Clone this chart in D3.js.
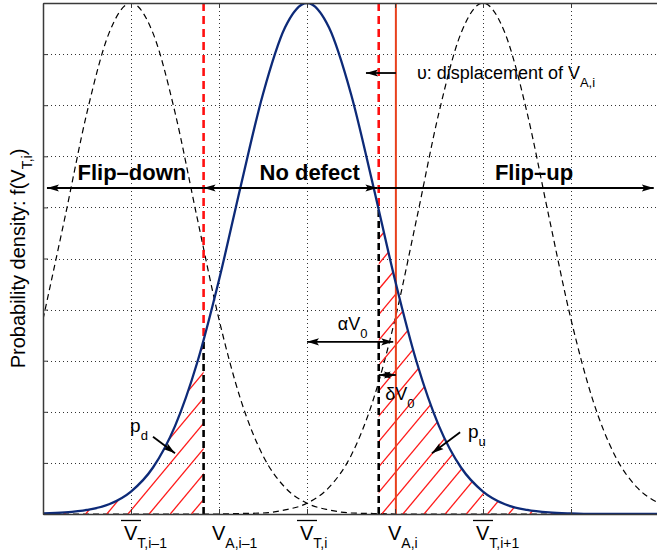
<!DOCTYPE html>
<html>
<head>
<meta charset="utf-8">
<script src="https://cdn.jsdelivr.net/npm/d3@7"></script>
<style>
  body { margin: 0; background: #fff; }
  svg { display: block; font-family: "Liberation Sans", Arial, Helvetica, sans-serif; }
</style>
</head>
<body>
<div id="chart"></div>
<script>
//  ---------------  DATA  ---------------
// x in grid units (one dotted grid cell = 1), y = density scaled to peak 1
const sampleX = [0, 0.25, 0.5, 0.75, 1, 1.25, 1.5, 1.75, 2, 2.25, 2.5, 2.75, 3, 3.25, 3.5,
  3.75, 4, 4.25, 4.5, 4.75, 5, 5.25, 5.5, 5.75, 6, 6.25, 6.5, 6.75, 7];
// f(V_T,i) : the solid blue curve
const densityI = [0.001, 0.003, 0.008, 0.019, 0.044, 0.091, 0.172, 0.295, 0.458, 0.644, 0.822,
  0.952, 1, 0.952, 0.822, 0.644, 0.458, 0.295, 0.172, 0.091, 0.044, 0.019, 0.008, 0.003,
  0.001, 0, 0, 0, 0];
// f(V_T,i-1) : dashed curve on the left
const densityPrev = [0.381, 0.581, 0.786, 0.941, 1, 0.941, 0.786, 0.581, 0.381, 0.222, 0.114,
  0.052, 0.021, 0.008, 0.002, 0.001, 0, 0, 0, 0, 0, 0, 0, 0, 0, 0, 0, 0, 0];
// f(V_T,i+1) : dashed curve on the right
const densityNext = [0, 0, 0, 0, 0, 0, 0, 0, 0, 0.001, 0.002, 0.008, 0.021, 0.052, 0.114,
  0.222, 0.381, 0.581, 0.786, 0.941, 1, 0.941, 0.786, 0.581, 0.381, 0.222, 0.114, 0.052, 0.021];

const xTicks = [0, 1, 2, 3, 4, 5, 6, 7];
const yTicks = [0, 0.1, 0.2, 0.3, 0.4, 0.5, 0.6, 0.7, 0.8, 0.9, 1];

// tick labels on the x axis
const labelPos = [1, 2, 3, 4, 5];
const labelSub = ["T,i\u20131", "A,i\u20131", "T,i", "A,i", "T,i+1"];
const labelBar = [true, false, true, false, true];

// read levels and their displaced positions
const readLevelPrev = 2.02;   // V_A,i-1
const readLevelI = 4.01;      // V_A,i
const shift = 0.195;          // displacement υ
const threshLeft = readLevelPrev - shift;
const threshRight = readLevelI - shift;

// annotation arrows [x1, y1, x2, y2, doubleHeaded]
const arrows = [
  [threshLeft, 0.638, 0.045, 0.638, false],   // Flip-down
  [threshLeft, 0.638, 3.80, 0.638, true],     // No defect
  [3.80, 0.638, 6.94, 0.638, false],          // Flip-up
  [readLevelI, 0.863, 3.67, 0.863, false],    // υ
  [3.00, 0.337, 3.98, 0.337, true],           // αV0
  [threshRight, 0.272, readLevelI, 0.272, true], // δV0
  [1.25, 0.151, 1.50, 0.119, false],          // p_d
  [4.74, 0.160, 4.42, 0.119, false]           // p_u
];

//  ---------------  SIZING AND SCALING  ---------------
const w = 657, h = 557;
const padL = 43, padT = 3, baseY = 514, padR = 659;

const x = d3.scaleLinear().domain([0, 7]).range([padL, padR]);
const y = d3.scaleLinear().domain([0, 1]).range([baseY, padT]);

const svg = d3.select("#chart").append("svg").attr("width", w).attr("height", h);
const defs = svg.append("defs");

const pts = (arr) => sampleX.map((v, i) => [v, arr[i]]);

const line = d3.line().x((d) => x(d[0])).y((d) => y(d[1])).curve(d3.curveMonotoneX);
const areaBelow = d3.area().x((d) => x(d[0])).y0(y(0)).y1((d) => y(d[1])).curve(d3.curveMonotoneX);
const areaAbove = d3.area().x((d) => x(d[0])).y0(y(1)).y1((d) => y(d[1])).curve(d3.curveMonotoneX);

// ------------  CLIP PATHS  ------------
defs.append("clipPath").attr("id", "plotClip").append("rect")
  .attr("x", padL).attr("y", padT).attr("width", padR - padL).attr("height", baseY - padT);
defs.append("clipPath").attr("id", "below").append("path").attr("d", areaBelow(pts(densityI)));
defs.append("clipPath").attr("id", "above").append("path").attr("d", areaAbove(pts(densityI)));
defs.append("clipPath").attr("id", "leftTail").append("rect")
  .attr("x", padL).attr("y", padT).attr("width", x(threshLeft) - padL).attr("height", baseY - padT);
defs.append("clipPath").attr("id", "rightTail").append("rect")
  .attr("x", x(threshRight)).attr("y", padT).attr("width", padR - x(threshRight)).attr("height", baseY - padT);

// arrow head
defs.append("marker").attr("id", "head")
  .attr("viewBox", "0 -5 12 10").attr("refX", 12).attr("refY", 0)
  .attr("markerWidth", 12).attr("markerHeight", 10)
  .attr("markerUnits", "userSpaceOnUse").attr("orient", "auto-start-reverse")
  .append("path").attr("d", "M0,-3.6L12,0L0,3.6L2.5,0Z").attr("fill", "#000");

// ------------  GRID  ------------
const grid = svg.append("g").attr("stroke", "#333").attr("stroke-width", 1).attr("stroke-dasharray", "1,3");
grid.selectAll(".gx").data(xTicks.slice(1)).enter().append("line")
  .attr("x1", (d) => x(d) + 0.5).attr("x2", (d) => x(d) + 0.5)
  .attr("y1", padT).attr("y2", baseY);
grid.selectAll(".gy").data(yTicks.slice(1, -1)).enter().append("line")
  .attr("x1", padL).attr("x2", padR)
  .attr("y1", (d) => Math.round(y(d)) + 0.5).attr("y2", (d) => Math.round(y(d)) + 0.5);

const plot = svg.append("g").attr("clip-path", "url(#plotClip)");

// ------------  NEIGHBOUR DENSITIES (dashed)  ------------
[densityPrev, densityNext].forEach((arr) => {
  plot.append("path").attr("d", line(pts(arr)))
    .attr("fill", "none").attr("stroke", "#000").attr("stroke-width", 1.2)
    .attr("stroke-dasharray", "6,4");
});

// ------------  HATCHED TAILS  ------------
const hatchSpacing = 21.15, hatchSlope = 1.2;
const hatchStarts = d3.range(-30, 40).map((k) => 128 + k * hatchSpacing);
["leftTail", "rightTail"].forEach((id) => {
  plot.append("g").attr("clip-path", "url(#" + id + ")")
    .append("g").attr("clip-path", "url(#below)")
    .selectAll("line").data(hatchStarts).enter().append("line")
    .attr("x1", (d) => d).attr("y1", baseY)
    .attr("x2", (d) => d + (baseY - padT) / hatchSlope).attr("y2", padT)
    .attr("stroke", "#ff1a1a").attr("stroke-width", 1.3);
});

// ------------  READ LEVELS  ------------
[threshLeft, threshRight].forEach((t) => {
  plot.append("line").attr("clip-path", "url(#above)")
    .attr("x1", x(t)).attr("x2", x(t)).attr("y1", padT).attr("y2", baseY)
    .attr("stroke", "#ff1010").attr("stroke-width", 2.6).attr("stroke-dasharray", "8,5");
  plot.append("line").attr("clip-path", "url(#below)")
    .attr("x1", x(t)).attr("x2", x(t)).attr("y1", baseY).attr("y2", padT)
    .attr("stroke", "#000").attr("stroke-width", 2.6).attr("stroke-dasharray", "7,4");
});
plot.append("line")
  .attr("x1", x(readLevelI)).attr("x2", x(readLevelI)).attr("y1", padT).attr("y2", baseY)
  .attr("stroke", "#e8401c").attr("stroke-width", 2);

// ------------  MAIN DENSITY  ------------
plot.append("path").attr("d", line(pts(densityI)))
  .attr("fill", "none").attr("stroke", "#0d2a78").attr("stroke-width", 2.3);

// ------------  ARROWS  ------------
svg.append("g").selectAll("line").data(arrows).enter().append("line")
  .attr("x1", (d) => x(d[0])).attr("y1", (d) => y(d[1]))
  .attr("x2", (d) => x(d[2])).attr("y2", (d) => y(d[3]))
  .attr("stroke", "#000").attr("stroke-width", 1.8)
  .attr("marker-end", "url(#head)")
  .attr("marker-start", (d) => (d[4] ? "url(#head)" : null));

// ------------  TEXT  ------------
const bold = (t, xv, yv) => svg.append("text").text(t)
  .attr("x", x(xv)).attr("y", y(yv)).attr("text-anchor", "middle")
  .style("font-size", "22px").style("font-weight", "bold");
bold("Flip\u2013down", 1.01, 0.654);
bold("No defect", 3.03, 0.654);
bold("Flip\u2013up", 5.58, 0.654);

function subText(xv, yv, main, sub, size) {
  const t = svg.append("text").attr("x", x(xv)).attr("y", y(yv)).style("font-size", size + "px");
  t.append("tspan").text(main);
  t.append("tspan").attr("dy", 8).style("font-size", "13px").text(sub);
  return t;
}
subText(4.25, 0.851, "\u03c5: displacement of V", "A,i", 18);
subText(3.35, 0.360, "\u03b1V", "0", 18);
subText(3.89, 0.223, "\u03b4V", "0", 18);
subText(0.99, 0.160, "p", "d", 19);
subText(4.83, 0.149, "p", "u", 19);

// x tick labels
labelPos.forEach((p, i) => {
  const px = x(p);
  const t = svg.append("text").attr("x", px - 7).attr("y", 540).style("font-size", "20px");
  t.append("tspan").text("V");
  t.append("tspan").attr("dy", 8).style("font-size", "14px").text(labelSub[i]);
  if (labelBar[i]) {
    svg.append("line").attr("x1", px - 10).attr("x2", px + 10).attr("y1", 520.5).attr("y2", 520.5)
      .attr("stroke", "#000").attr("stroke-width", 1.3);
  }
});

// y label
const yl = svg.append("text").attr("text-anchor", "middle")
  .attr("transform", "translate(25," + (padT + baseY) / 2 + ") rotate(-90)")
  .style("font-size", "20px");
yl.append("tspan").text("Probability density: f(V");
yl.append("tspan").attr("dy", 7).style("font-size", "14px").text("T,i");
yl.append("tspan").attr("dy", -7).text(")");

// ------------  AXES  ------------
const axisStyle = (g) => {
  g.selectAll("path.domain").attr("stroke", "#3a3a3a").attr("stroke-width", 1.5);
  g.selectAll(".tick line").attr("stroke", "#3a3a3a");
  g.selectAll(".tick text").remove();
};
svg.append("g").attr("transform", "translate(0," + baseY + ")")
  .call(d3.axisBottom(x).tickValues(xTicks).tickSize(-5).tickSizeOuter(0)).call(axisStyle);
svg.append("g").attr("transform", "translate(0," + padT + ")")
  .call(d3.axisTop(x).tickValues(xTicks).tickSize(-5).tickSizeOuter(0)).call(axisStyle);
svg.append("g").attr("transform", "translate(" + padL + ",0)")
  .call(d3.axisLeft(y).tickValues(yTicks).tickSize(-5).tickSizeOuter(0)).call(axisStyle);
</script>
</body>
</html>
